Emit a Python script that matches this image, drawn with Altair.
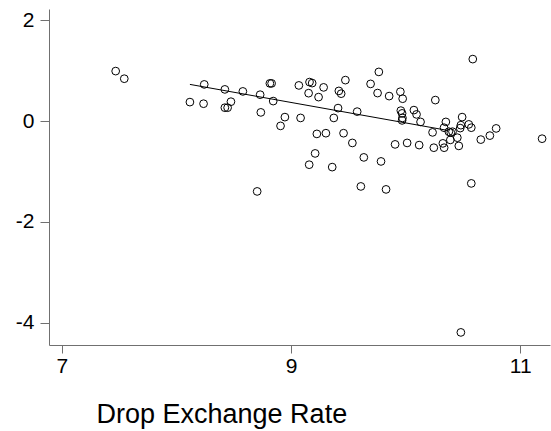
import altair as alt
import pandas as pd

# Scatter points
x_vals = [7.469, 7.544, 8.242, 8.117, 8.236, 8.422, 8.579, 8.730, 8.815, 8.830,
          8.422, 8.446, 8.475, 8.736, 8.844, 8.946, 8.908, 8.704, 9.068, 9.083,
          10.586, 9.766, 9.474, 9.161, 9.184, 9.284, 9.694, 9.153, 9.240, 9.417,
          9.437, 9.755, 9.856, 9.954, 9.974, 10.259, 9.410, 9.577, 9.373, 9.958,
          9.969, 9.972, 9.969, 10.072, 10.095, 10.130, 10.351, 10.493, 10.482, 10.476,
          10.551, 10.573, 10.790, 10.735, 10.656, 11.191, 10.335, 10.235, 10.377, 10.394,
          10.409, 10.325, 10.336, 10.390, 10.451, 10.464, 10.246, 10.118, 10.013, 9.908,
          9.225, 9.304, 9.458, 9.535, 9.210, 9.158, 9.359, 9.635, 9.785, 9.609,
          9.829, 10.573, 10.482]
y_vals = [0.992, 0.841, 0.728, 0.377, 0.345, 0.629, 0.589, 0.524, 0.748, 0.748,
          0.266, 0.266, 0.385, 0.173, 0.397, 0.079, -0.095, -1.395, 0.708, 0.063,
          1.230, 0.976, 0.813, 0.774, 0.754, 0.669, 0.738, 0.554, 0.476, 0.599,
          0.544, 0.556, 0.496, 0.583, 0.444, 0.417, 0.258, 0.188, 0.063, 0.208,
          0.153, 0.063, 0.014, 0.218, 0.133, -0.016, -0.016, 0.079, -0.081, -0.139,
          -0.065, -0.131, -0.145, -0.288, -0.367, -0.349, -0.131, -0.224, -0.210, -0.230,
          -0.210, -0.442, -0.528, -0.373, -0.329, -0.492, -0.528, -0.476, -0.433, -0.462,
          -0.254, -0.240, -0.240, -0.433, -0.641, -0.865, -0.913, -0.720, -0.800, -1.296,
          -1.355, -1.236, -4.192]

# Fitted line endpoints
line_x = [8.117, 10.368]
line_y = [0.728, -0.185]

x_ticks = [7, 9, 11]
y_ticks = [-4, -2, 0, 2]

pts = pd.DataFrame({"x": x_vals, "y": y_vals})
ln = pd.DataFrame({"x": line_x, "y": line_y})

FONT = "Liberation Sans"
GRAY = "#707070"

xscale = alt.Scale(domain=[6.887, 11.26], nice=False, zero=False)
yscale = alt.Scale(domain=[-4.442, 2.224], nice=False, zero=False)

xaxis = alt.Axis(values=x_ticks, grid=False, domainColor=GRAY, tickColor=GRAY,
                 tickSize=8, labelFontSize=21, labelFont=FONT, labelColor="black",
                 labelPadding=2, title="Drop Exchange Rate", titleFont=FONT,
                 titleFontSize=27, titleFontWeight="normal", titleColor="black",
                 titleAlign="left", titleBaseline="alphabetic", titleX=47, titleY=77,
                 labelFlush=False, labelExpr="'' + datum.value")
yaxis = alt.Axis(values=y_ticks, grid=False, domainColor=GRAY, tickColor=GRAY,
                 tickSize=9, labelFontSize=21, labelFont=FONT, labelColor="black",
                 labelPadding=6, title=None, labelFlush=False,
                 labelExpr="'' + datum.value")

points = alt.Chart(pts).mark_point(filled=False, color="black", size=60,
                                   strokeWidth=1, opacity=1).encode(
    x=alt.X("x:Q", scale=xscale, axis=xaxis),
    y=alt.Y("y:Q", scale=yscale, axis=yaxis),
)
line = alt.Chart(ln).mark_line(color="black", strokeWidth=1).encode(
    x=alt.X("x:Q", scale=xscale),
    y=alt.Y("y:Q", scale=yscale),
)

chart = alt.layer(points, line).properties(
    width=501, height=336,
    autosize=alt.AutoSizeParams(type="none"),
    padding={"left": 49, "top": 9, "right": 1, "bottom": 86},
    background="white",
).configure_view(stroke=None)

chart.save("out.html", embed_options={"renderer": "svg", "actions": False})
